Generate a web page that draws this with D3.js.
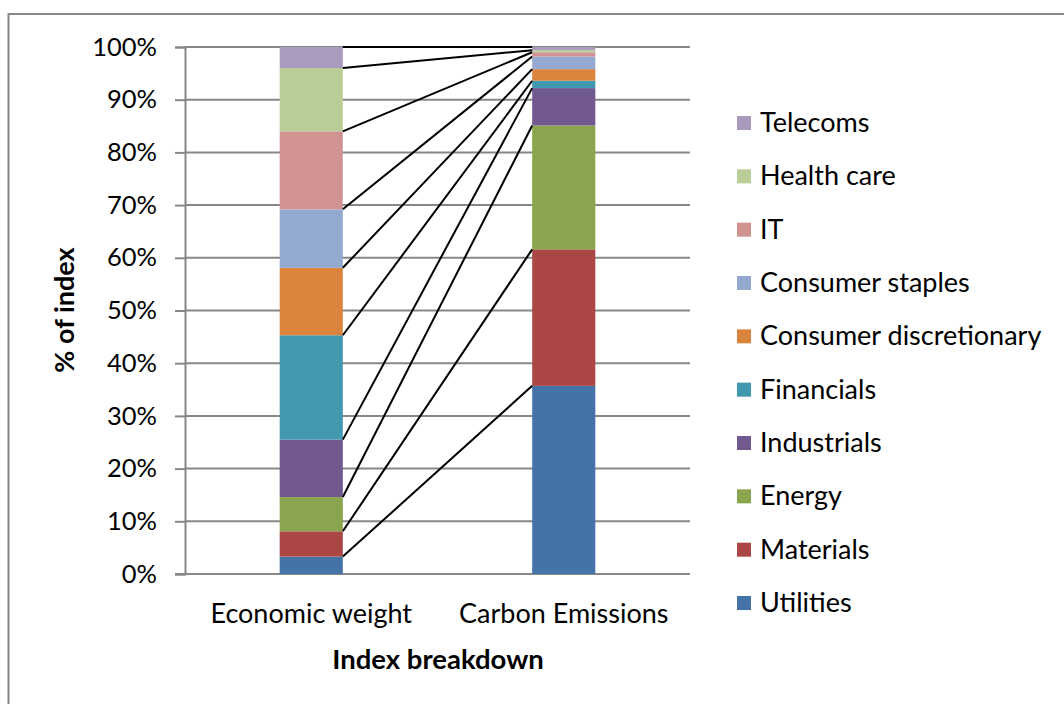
<!DOCTYPE html>
<html>
<head>
<meta charset="utf-8">
<script src="https://cdn.jsdelivr.net/npm/d3@7"></script>
<style>
  body { margin: 0; background: #fff; }
  svg text { font-family: Lato, "Open Sans", sans-serif; fill: #000; }
</style>
</head>
<body>
<div id="chart"></div>
<script>
// data (percent of index)
var categories = ["Economic weight", "Carbon Emissions"];
var sectors = ["Utilities", "Materials", "Energy", "Industrials", "Financials",
  "Consumer discretionary", "Consumer staples", "IT", "Health care", "Telecoms"];
var economicWeight = [3.3, 4.8, 6.5, 10.9, 19.8, 12.8, 11.1, 14.8, 12.0, 4.0];
var carbonEmissions = [35.7, 25.9, 23.5, 7.1, 1.4, 2.2, 2.4, 0.8, 0.4, 0.6];
var colors = ["#4572A7", "#AA4643", "#89A54E", "#71588F", "#4198AF",
  "#DB843D", "#93A9CF", "#D19392", "#B9CD96", "#A99BBD"];
var yTicks = [0, 0.1, 0.2, 0.3, 0.4, 0.5, 0.6, 0.7, 0.8, 0.9, 1];

var W = 1064, H = 704;
var plot = { left: 185, right: 690, top: 47, bottom: 574 };

var svg = d3.select("#chart").append("svg")
  .attr("width", W).attr("height", H);

// outer chart border (runs off right and bottom edges)
svg.append("rect")
  .attr("x", 8.5).attr("y", 14)
  .attr("width", 1080).attr("height", 720)
  .attr("fill", "none").attr("stroke", "#878787").attr("stroke-width", 2);

var x = d3.scaleBand().domain(categories).range([plot.left, plot.right]).padding(0);
var y = d3.scaleLinear().domain([0, 1]).range([plot.bottom, plot.top]);
var barW = x.bandwidth() * 0.25;

// gridlines
svg.append("g").selectAll("line")
  .data(yTicks.slice(1))
  .enter().append("line")
  .attr("x1", plot.left).attr("x2", plot.right)
  .attr("y1", function (d) { return y(d); })
  .attr("y2", function (d) { return y(d); })
  .attr("stroke", "#878787").attr("stroke-width", 2);

// y axis
var yAxis = svg.append("g")
  .attr("transform", "translate(" + plot.left + ",0)")
  .call(d3.axisLeft(y).tickValues(yTicks).tickFormat(d3.format(".0%")).tickSize(10).tickPadding(18));
yAxis.select(".domain").attr("stroke", "#878787").attr("stroke-width", 2);
yAxis.selectAll(".tick line").attr("stroke", "#878787").attr("stroke-width", 2);
yAxis.selectAll("text").style("font-size", "25.5px").attr("fill", "#000");

// x axis baseline
svg.append("line")
  .attr("x1", plot.left - 10).attr("x2", plot.right)
  .attr("y1", y(0)).attr("y2", y(0))
  .attr("stroke", "#878787").attr("stroke-width", 2);

// stacked bars
var series = [economicWeight, carbonEmissions];
var stacks = series.map(function (vals) {
  var acc = 0;
  return vals.map(function (v) { var s = { y0: acc / 100, y1: (acc + v) / 100 }; acc += v; return s; });
});

categories.forEach(function (cat, ci) {
  var cx = x(cat) + x.bandwidth() / 2;
  svg.append("g").selectAll("rect")
    .data(stacks[ci])
    .enter().append("rect")
    .attr("x", cx - barW / 2)
    .attr("width", barW)
    .attr("y", function (d) { return y(d.y1); })
    .attr("height", function (d) { return y(d.y0) - y(d.y1); })
    .attr("fill", function (d, i) { return colors[i]; });
});

// series lines joining segment tops
var xl = x(categories[0]) + x.bandwidth() / 2 + barW / 2;
var xr = x(categories[1]) + x.bandwidth() / 2 - barW / 2;
svg.append("g").selectAll("line")
  .data(sectors)
  .enter().append("line")
  .attr("x1", xl).attr("x2", xr)
  .attr("y1", function (d, i) { return y(stacks[0][i].y1); })
  .attr("y2", function (d, i) { return y(stacks[1][i].y1); })
  .attr("stroke", "#000").attr("stroke-width", 2);

// category labels
svg.append("g").selectAll("text")
  .data(categories)
  .enter().append("text")
  .attr("x", function (d) { return x(d) + x.bandwidth() / 2; })
  .attr("y", 623)
  .attr("text-anchor", "middle")
  .style("font-size", "27px")
  .text(function (d) { return d; });

// axis titles
svg.append("text")
  .attr("x", 438).attr("y", 669)
  .attr("text-anchor", "middle")
  .style("font-size", "27.5px").style("font-weight", "bold")
  .text("Index breakdown");

svg.append("text")
  .attr("transform", "translate(74,310) rotate(-90)")
  .attr("text-anchor", "middle")
  .style("font-size", "27px").style("font-weight", "bold")
  .text("% of index");

// legend (top item = last series)
var legendY = d3.scalePoint().domain(sectors.slice().reverse()).range([123, 603]);
var legend = svg.append("g").selectAll("g")
  .data(sectors)
  .enter().append("g")
  .attr("transform", function (d) { return "translate(737," + legendY(d) + ")"; });
legend.append("rect")
  .attr("x", 0).attr("y", -7).attr("width", 14).attr("height", 14)
  .attr("fill", function (d, i) { return colors[i]; });
legend.append("text")
  .attr("x", 23).attr("y", 9)
  .style("font-size", "27px")
  .text(function (d) { return d; });
</script>
</body>
</html>
